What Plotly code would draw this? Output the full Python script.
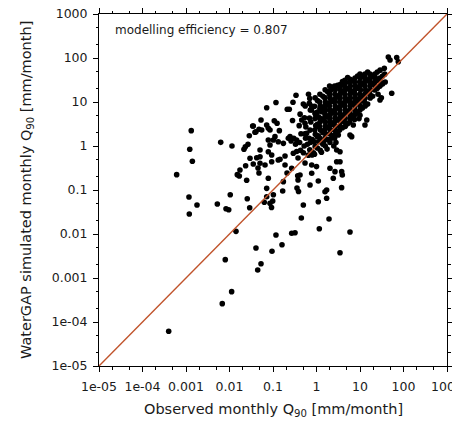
import plotly.graph_objects as go

# ---- data (observed vs simulated monthly Q90, mm/month) ----
obs_scattered = [0.00119, 0.448, 1.94, 0.0141, 0.117, 0.269, 0.321, 1.16, 5.89, 0.0406,
                 0.161, 0.0948, 3.47, 0.0080, 0.053, 0.0445, 0.0112, 0.00682, 0.0004,
                 0.00132, 0.00122, 0.0014, 0.00061, 0.00628, 0.0114, 0.0341, 0.0285, 0.0385,
                 0.0476, 0.0266, 0.0231, 0.0215, 0.0422, 0.0235, 0.0174, 0.0151, 0.0168,
                 0.0452, 0.0476, 0.0248, 0.00117, 0.00179, 0.0104, 0.00525, 0.00832, 0.0096,
                 0.0256, 0.0291]
sim_scattered = [0.0285, 0.0231, 0.0219, 0.0115, 0.0095, 0.0104, 0.0107, 0.0132, 0.0111, 0.00481,
                 0.00571, 0.00405, 0.00376, 0.00261, 0.00211, 0.00152, 0.000489, 0.000261, 0.0000615,
                 2.23, 0.841, 0.449, 0.223, 1.21, 1.0, 2.85, 1.71, 2.05,
                 2.40, 1.09, 0.964, 0.841, 0.542, 0.356, 0.285, 0.223, 0.208,
                 0.316, 0.243, 0.166, 0.0693, 0.0456, 0.0782, 0.0481, 0.0376, 0.0356,
                 0.0634, 0.0396]

obs_medium = [0.0716, 0.117, 0.213, 0.237, 0.338, 0.655, 0.288, 0.498, 0.683, 0.767, 1.57, 1.63,
              2.66, 0.281, 0.107, 0.124, 0.0716, 0.055, 0.0406, 0.0853, 0.140, 0.457, 0.545,
              0.925, 1.10, 1.32, 0.771, 1.20, 0.111, 0.225, 0.078, 0.0352,
              0.0503, 0.102, 0.132, 0.0853, 0.078, 0.0503, 0.0655, 0.0933, 0.132, 0.189, 0.269,
              0.21, 0.376, 0.545, 0.789, 0.418, 0.078, 0.0716, 0.173, 0.356, 0.386, 0.71, 1.71,
              1.71, 1.10, 0.498, 0.0853, 0.0925, 2.66, 2.43, 1.57, 3.78, 1.10, 0.102, 0.0984,
              0.376, 0.37, 0.167, 0.063, 0.0716,
              3.17, 5.89, 6.44, 2.91, 3.47, 2.91, 3.47, 3.79, 3.92,
              49, 69.8, 75.9, 44.8, 36.2, 53.6, 14.3, 13.0, 28.8,
              0.776, 1.0, 0.776, 2.04, 0.053, 0.0296, 0.0352, 0.0503, 0.0933, 0.145, 0.189,
              0.293, 0.078, 0.173, 0.246, 0.349, 0.594, 1.01,
              0.3, 0.33, 0.26, 0.35, 0.5, 0.62, 0.8, 0.85, 1.05, 1.3, 1.45, 1.75, 2.2, 2.5,
              2.8, 1.1, 0.65, 0.9,
              7.5, 7.0, 10, 9.5, 31, 26]
sim_medium = [7.41, 9.75, 6.82, 6.82, 14.2, 15.0, 9.84, 9.0, 9.34, 8.11, 12.5, 9.34,
              21.9, 3.80, 3.76, 3.28, 3.0, 2.31, 2.11, 2.31, 2.23, 3.90, 3.28,
              5.53, 4.63, 6.02, 6.58, 7.19, 1.63, 1.50, 2.52, 2.85,
              0.811, 1.37, 1.25, 1.05, 0.742, 0.405, 0.370, 0.44, 0.481, 0.37, 0.311,
              0.243, 0.533, 0.411, 0.624, 0.219, 0.185, 0.109, 0.155, 0.111, 0.0925, 0.13, 0.1,
              0.0647, 0.0542, 0.0456, 0.0499, 0.04, 0.261, 0.185, 0.0916, 0.113, 0.16, 0.0782, 0.0562,
              0.169, 0.211, 0.0948, 0.0525, 0.0705,
              1.78, 1.78, 1.63, 0.811, 0.742, 0.44, 0.44, 0.261, 0.219,
              90.1, 102, 82.4, 105, 58.3, 15.8, 3.9, 3.0, 11.1,
              0.37, 0.34, 0.24, 0.311, 3.9, 0.525, 0.39, 0.571, 0.624, 0.499, 0.593,
              0.682, 1.37, 1.15, 1.63, 1.37, 1.95, 2.75,
              1.5, 1.1, 1.3, 0.75, 0.7, 1.1, 1.4, 0.7, 0.9, 0.72, 1.2, 0.85, 1.5, 1.0,
              1.2, 1.7, 0.62, 0.65,
              4.0, 3.0, 5.0, 4.2, 12.5, 15]

obs_core = [0.42, 0.40, 0.44, 0.41, 0.43,
            0.55, 0.53, 0.57, 0.54, 0.56, 0.52,
            0.70, 0.72, 0.69, 0.74, 0.71, 0.68, 0.73, 0.70,
            0.93, 0.90, 0.95, 0.92, 0.96, 0.91, 0.94, 0.90, 0.93,
            1.20, 1.18, 1.22, 1.25, 1.19, 1.21, 1.17, 1.23, 1.20, 1.16, 1.22,
            1.58, 1.55, 1.60, 1.56, 1.62, 1.57, 1.54, 1.60, 1.58, 1.55, 1.61, 1.57, 1.59,
            2.0, 2.1, 2.0, 2.05, 2.1, 1.98, 2.05, 2.08, 2.0, 2.06, 2.02, 2.1, 2.0, 2.04,
            2.6, 2.7, 2.65, 2.7, 2.6, 2.68, 2.62, 2.7, 2.66, 2.6, 2.72, 2.64, 2.68, 2.6,
            3.5, 3.4, 3.55, 3.45, 3.5, 3.4, 3.55, 3.45, 3.5, 3.42, 3.52, 3.46, 3.4,
            4.5, 4.6, 4.4, 4.55, 4.5, 4.6, 4.45, 4.5, 4.58, 4.48, 4.52, 4.4, 4.6,
            5.9, 5.8, 6.0, 5.85, 5.9, 6.0, 5.8, 5.95, 5.85, 6.0, 5.9, 5.8,
            7.7, 7.5, 7.8, 7.6, 7.7, 7.8, 7.5, 7.7, 7.6, 7.8,
            10, 10.2, 9.8, 10, 10.3, 9.9, 10.1, 9.7, 10.2, 10,
            13, 13.2, 12.8, 13, 13.4, 12.9, 13.1, 12.7, 13.2,
            17, 17.3, 16.8, 17, 17.4, 16.9, 17.2,
            22, 22.5, 21.8, 22.3, 22,
            29, 28.5, 29.3, 28.8,
            37, 38,
            1.05, 1.05, 1.05, 1.05, 1.4, 1.4, 1.4, 1.4, 1.4, 1.8, 1.8, 1.8, 1.8, 1.8,
            2.35, 2.35, 2.35, 2.35, 2.35, 3.05, 3.05, 3.05, 3.05, 3.05,
            3.95, 3.95, 3.95, 3.95, 3.95, 5.2, 5.2, 5.2, 5.2, 5.2,
            6.7, 6.7, 6.7, 6.7, 8.8, 8.8, 8.8, 8.8, 11.4, 11.4, 11.4, 11.4,
            15, 15, 15, 15, 19.5, 19.5, 19.5, 25, 25, 25, 33, 33]
sim_core = [5.3, 2.9, 1.9, 1.2, 0.80,
            8.1, 4.4, 2.7, 1.9, 1.5, 1.0,
            12, 6.6, 4.3, 3.5, 2.3, 1.5, 1.2, 0.82,
            12.5, 8.0, 5.3, 4.2, 2.9, 2.3, 1.85, 1.25, 0.98,
            15, 10, 8.2, 6.5, 4.3, 3.5, 2.8, 2.3, 1.5, 1.25, 0.80,
            19, 12.5, 10, 8.0, 6.6, 5.3, 4.4, 3.5, 2.8, 2.3, 1.9, 1.5, 1.0,
            23, 18.5, 15, 12.3, 10, 8.1, 6.6, 5.3, 4.3, 3.5, 2.9, 2.3, 1.9, 1.2,
            23, 19, 15, 12, 10, 8.1, 6.6, 5.4, 4.3, 3.5, 2.8, 2.3, 1.85, 1.5,
            25, 22, 18.7, 15, 12.3, 10, 8.1, 6.6, 5.3, 4.3, 3.5, 2.85, 2.3,
            31, 27, 23, 18.7, 15, 12.3, 10, 8.1, 6.6, 5.3, 4.3, 3.5, 2.8,
            33, 28.5, 23, 18.7, 15, 12.3, 10, 8.1, 6.6, 5.3, 4.3, 3.5,
            35, 28.5, 23, 18.7, 15, 12.3, 10, 8.1, 6.6, 5.3,
            43, 35, 28.5, 23, 18.7, 15, 12.3, 10, 8.1, 6.6,
            43, 35, 28.5, 23, 18.7, 15, 12.3, 10, 8.1,
            43, 35, 28.5, 23, 18.7, 15, 12.3,
            43, 35, 28.5, 23, 18.7,
            53, 35, 28.5, 23,
            43, 28.5,
            10.8, 5.9, 3.1, 1.6, 13.5, 7.3, 3.9, 2.0, 1.1, 17, 9, 4.8, 2.6, 1.4,
            20.5, 11, 5.9, 3.1, 1.7, 24, 13.5, 7.3, 3.9, 2.1,
            29, 17, 9, 4.8, 2.6, 36, 20.5, 11, 5.9, 3.2,
            31, 17, 9, 4.8, 39, 20.5, 11, 5.9, 39, 25.5, 13.5, 7.3,
            48, 31, 17, 9, 39, 25.5, 13.5, 48, 31, 20.5, 39, 25.5]

one_to_one = [1e-05, 1000]
tick_vals = [1e-05, 1e-04, 0.001, 0.01, 0.1, 1, 10, 100, 1000]
tick_text = ["1e-05", "1e-04", "0.001", "0.01", "0.1", "1", "10", "100", "1000"]
efficiency_label = "modelling efficiency = 0.807"

obs_all = obs_scattered + obs_medium + obs_core
sim_all = sim_scattered + sim_medium + sim_core

FONT = "DejaVu Sans"
TXT = "#1a1a1a"

fig = go.Figure()
fig.add_trace(go.Scatter(x=obs_all, y=sim_all, mode="markers",
                         marker=dict(color="black", size=5.6, line=dict(width=0)),
                         showlegend=False, hoverinfo="skip"))
fig.add_trace(go.Scatter(x=one_to_one, y=one_to_one, mode="lines",
                         line=dict(color="#c0532b", width=1.4),
                         showlegend=False, hoverinfo="skip"))

axis_common = dict(
    type="log", range=[-5, 3], showgrid=False, zeroline=False, automargin=False,
    showline=True, linecolor="black", linewidth=1, mirror="allticks",
    ticks="outside", ticklen=5, tickwidth=1, tickcolor="black",
    tickvals=tick_vals, ticktext=tick_text, ticklabeloverflow="allow",
    tickfont=dict(family=FONT, size=12.5, color=TXT),
    minor=dict(ticks="outside", ticklen=2.5, tickwidth=1, tickcolor="black", showgrid=False),
)
fig.update_xaxes(**axis_common, ticklabelstandoff=4)
fig.update_yaxes(**axis_common, ticklabelstandoff=3)

fig.add_annotation(text=efficiency_label, xref="paper", yref="paper",
                   x=(112.7 - 99) / 348, y=(366 - 30) / 352, xanchor="left", yanchor="middle",
                   showarrow=False, font=dict(family=FONT, size=12, color=TXT))
fig.add_annotation(text="Observed monthly Q<sub>90</sub> [mm/month]", xref="paper", yref="paper",
                   x=0.5, y=-(410 - 366) / 352, xanchor="center", yanchor="middle",
                   showarrow=False, font=dict(family=FONT, size=14.5, color=TXT))
fig.add_annotation(text="WaterGAP simulated monthly Q<sub>90</sub> [mm/month]", xref="paper", yref="paper",
                   x=(27 - 99) / 348, y=0.5, xanchor="center", yanchor="middle", textangle=-90,
                   showarrow=False, font=dict(family=FONT, size=14.5, color=TXT))

# the page body adds an 8 px offset, so the figure is 8 px smaller than the window
fig.update_layout(width=452, height=413, margin=dict(l=91, r=13, t=6, b=55),
                  paper_bgcolor="white", plot_bgcolor="white")
fig.write_html("out.html")
